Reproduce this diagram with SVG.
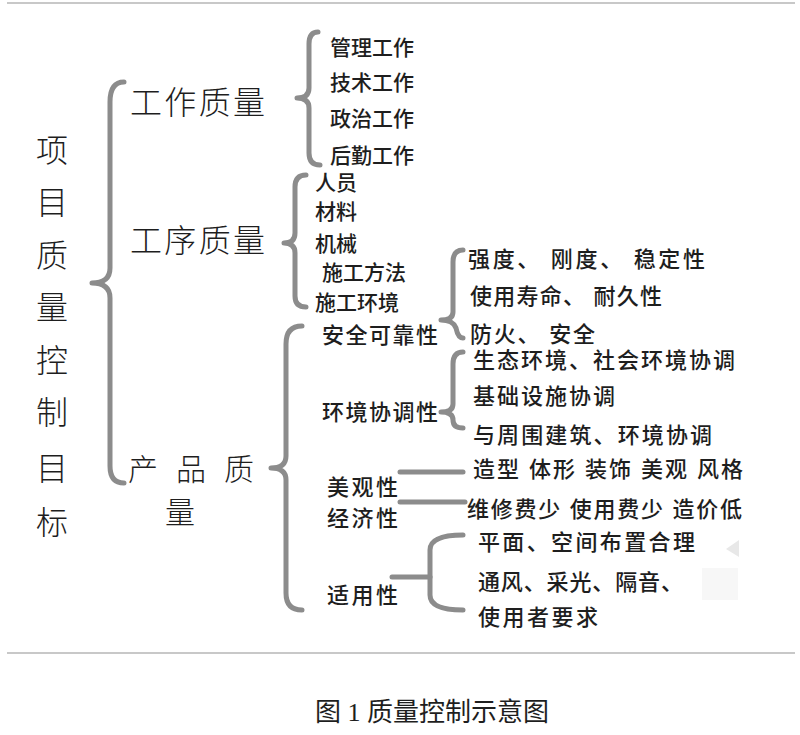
<svg xmlns="http://www.w3.org/2000/svg" width="800" height="735" viewBox="0 0 800 735">
<style>
.t{font-family:"Liberation Sans","Noto Sans CJK SC",sans-serif;fill:#1e1e1e;dominant-baseline:central}
.big{font-size:32px;font-weight:300;font-family:"Noto Sans CJK SC",sans-serif}
.mid{font-size:21px;font-weight:500}
.sm{font-size:22px;font-weight:500}
.br{fill:none;stroke:#8c8c8c;stroke-width:5;stroke-linecap:round;stroke-linejoin:round}
.frame{stroke:#c8c8c8;stroke-width:2}
.cap{font-family:"Liberation Serif","Noto Sans CJK SC",serif;font-size:26px;fill:#1e1e1e;dominant-baseline:central}
</style>
<rect width="800" height="735" fill="#ffffff"/>
<line class="frame" x1="7" y1="3" x2="795" y2="3"/>
<line class="frame" x1="7" y1="653" x2="795" y2="653"/>
<polygon points="739,540 726,549 739,557" fill="#e8e8e8"/>
<rect x="702" y="568" width="36" height="32" fill="#f7f7f7"/>

<g id="connectors">
  <path class="br" d="M124,82 Q110,82 110,102 L110,268 Q110,283 92,283 Q110,283 110,298 L110,466 Q110,483 124,483"/>
  <path class="br" d="M318,32 Q309,32 309,44 L309,88 Q309,98 297,98 Q309,98 309,108 L309,153 Q309,165 320,165"/>
  <path class="br" d="M306,175 Q295,175 295,187 L295,233 Q295,243 284,243 Q295,243 295,253 L295,296 Q295,307 306,307"/>
  <path class="br" d="M302,326 Q286,326 286,344 L286,456 Q286,468 271,468 Q286,468 286,480 L286,593 Q286,610 302,610"/>
  <path class="br" d="M463,250 Q453,250 453,262 L453,312 Q453,320 441,320 Q453,320 456,328 Q458,338 463,338"/>
  <path class="br" d="M463,352 Q453,352 453,364 L453,404 Q453,412 441,412 Q453,412 453,420 Q453,428 463,428"/>
  <path class="br" d="M400,472 L463,472"/>
  <path class="br" d="M400,502 L465,502"/>
  <path class="br" d="M463,535 Q430,535 430,550 L430,595 Q430,610 463,610"/>
  <path class="br" d="M392,577 L430,577"/>
</g>

<g id="root">
  <text class="t big" x="52" y="148" text-anchor="middle">项</text>
  <text class="t big" x="52" y="200" text-anchor="middle">目</text>
  <text class="t big" x="52" y="253" text-anchor="middle">质</text>
  <text class="t big" x="52" y="305" text-anchor="middle">量</text>
  <text class="t big" x="52" y="358" text-anchor="middle">控</text>
  <text class="t big" x="52" y="410" text-anchor="middle">制</text>
  <text class="t big" x="52" y="466" text-anchor="middle">目</text>
  <text class="t big" x="52" y="520" text-anchor="middle">标</text>
</g>

<g id="work-quality"><text class="t big" x="130" y="100" textLength="135">工作质量</text></g>
<g id="process-quality"><text class="t big" x="130" y="238" textLength="135">工序质量</text></g>
<g id="product-quality">
  <text class="t big" x="128" y="467" style="font-size:30px">产</text>
  <text class="t big" x="176" y="467" style="font-size:30px">品</text>
  <text class="t big" x="224" y="467" style="font-size:30px">质</text>
  <text class="t big" x="180" y="510" text-anchor="middle" style="font-size:30px">量</text>
</g>

<g id="work-items">
  <text class="t mid" x="330" y="47">管理工作</text>
  <text class="t mid" x="330" y="82">技术工作</text>
  <text class="t mid" x="330" y="118">政治工作</text>
  <text class="t mid" x="330" y="155">后勤工作</text>
</g>

<g id="process-items">
  <text class="t mid" x="315" y="182">人员</text>
  <text class="t mid" x="315" y="211">材料</text>
  <text class="t mid" x="315" y="243">机械</text>
  <text class="t mid" x="322" y="272">施工方法</text>
  <text class="t mid" x="315" y="302">施工环境</text>
</g>

<g id="safety">
  <text class="t sm" x="322" y="335" textLength="116">安全可靠性</text>
  <text class="t sm" x="468" y="259" xml:space="preserve" textLength="237">强度、 刚度、 稳定性</text>
  <text class="t sm" x="470" y="296" xml:space="preserve" textLength="192">使用寿命、 耐久性</text>
  <text class="t sm" x="470" y="334" xml:space="preserve" textLength="125">防火、 安全</text>
</g>

<g id="environment">
  <text class="t sm" x="322" y="412" textLength="116">环境协调性</text>
  <text class="t sm" x="473" y="360" textLength="262">生态环境、社会环境协调</text>
  <text class="t sm" x="473" y="396" textLength="142">基础设施协调</text>
  <text class="t sm" x="473" y="435" textLength="239">与周围建筑、环境协调</text>
</g>

<g id="aesthetics">
  <text class="t sm" x="327" y="487" textLength="71">美观性</text>
  <text class="t sm" x="473" y="469" xml:space="preserve" textLength="270">造型 体形 装饰 美观 风格</text>
</g>

<g id="economy">
  <text class="t sm" x="327" y="518" textLength="71">经济性</text>
  <text class="t sm" x="467" y="509" xml:space="preserve" textLength="275">维修费少 使用费少 造价低</text>
</g>

<g id="usability">
  <text class="t sm" x="327" y="595" textLength="71">适用性</text>
  <text class="t sm" x="478" y="542" textLength="217">平面、空间布置合理</text>
  <text class="t sm" x="478" y="582" textLength="205">通风、采光、隔音、</text>
  <text class="t sm" x="478" y="617" textLength="120">使用者要求</text>
</g>

<text class="cap" x="432" y="712" text-anchor="middle" xml:space="preserve">图 1 质量控制示意图</text>
</svg>
